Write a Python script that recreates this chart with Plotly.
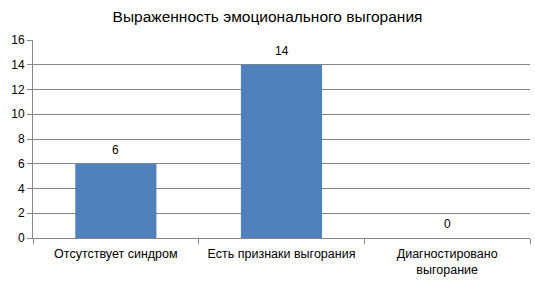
import plotly.graph_objects as go

categories = ["Отсутствует синдром", "Есть признаки выгорания", "Диагностировано<br>выгорание"]
values = [6, 14, 0]
y_ticks = [0, 2, 4, 6, 8, 10, 12, 14, 16]

fig = go.Figure(go.Bar(
    x=categories, y=values,
    marker=dict(color="#4F81BD", line=dict(width=0)),
    cliponaxis=False, width=0.49,
))
for c, v in zip(categories, values):
    fig.add_annotation(x=c, y=v, text=str(v), showarrow=False, yanchor="bottom",
                       yshift=5, font=dict(family="Liberation Sans", size=12, color="#000"))
fig.update_layout(
    width=535, height=282,
    margin=dict(l=33, r=5, t=40, b=44),
    paper_bgcolor="white", plot_bgcolor="white",
    title=dict(text="Выраженность эмоционального выгорания", x=0.5, xanchor="center",
               y=0.94, yanchor="middle",
               font=dict(family="Liberation Sans", size=15.5, color="#000")),
    showlegend=False,
    font=dict(family="Liberation Sans", size=12, color="#000"),
)
fig.update_xaxes(showline=True, linecolor="#868686", linewidth=1, ticks="outside",
                 tickson="boundaries", ticklen=5, tickcolor="#868686", showgrid=False,
                 tickfont=dict(size=12.5), ticklabelstandoff=4)
fig.update_yaxes(range=[0, 16], tickvals=y_ticks, showline=True, linecolor="#868686",
                 linewidth=1, ticks="outside", ticklen=5, tickcolor="#868686",
                 gridcolor="#868686", gridwidth=1, zeroline=False,
                 tickfont=dict(size=12))
fig.write_html("out.html")
